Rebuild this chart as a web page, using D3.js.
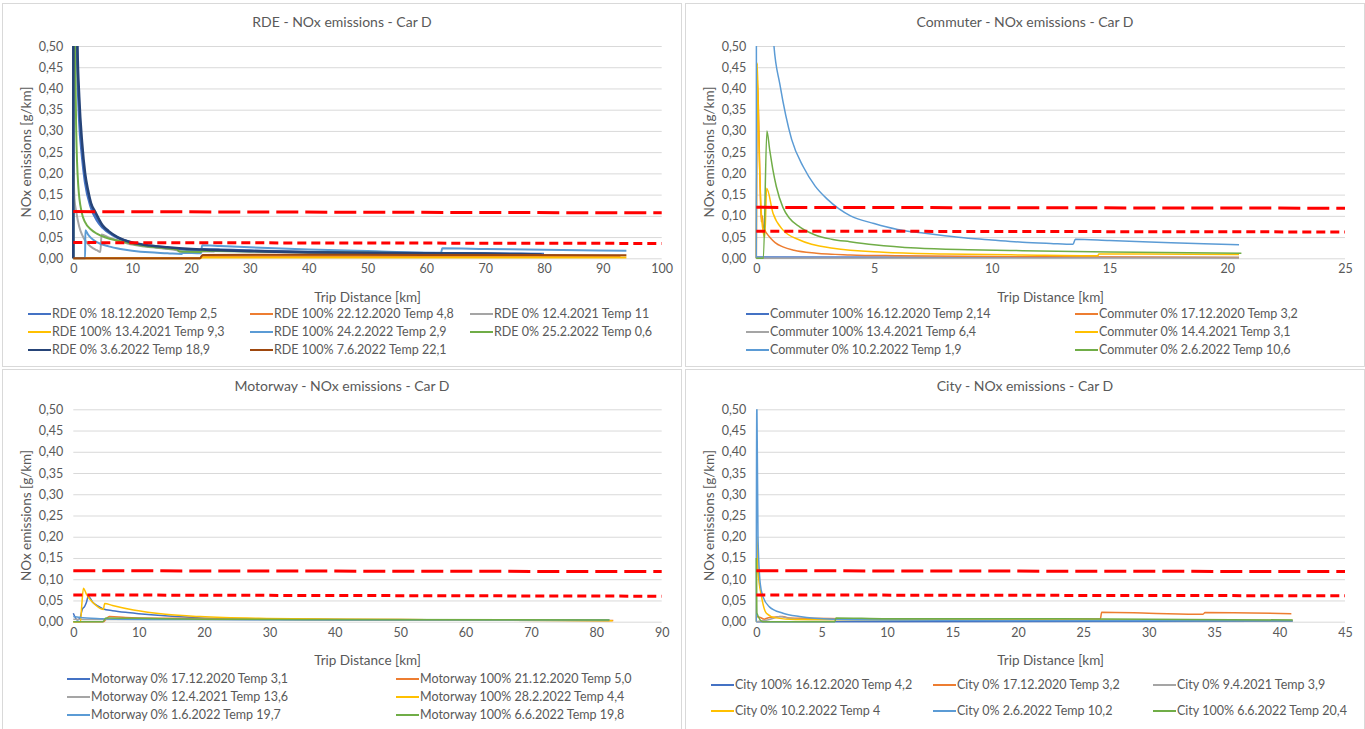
<!DOCTYPE html>
<html>
<head>
<meta charset="utf-8">
<script src="https://cdn.jsdelivr.net/npm/d3@7"></script>
<style>
  body { margin: 0; background: #fff; }
  svg text { font-family: Lato, "Open Sans", sans-serif; fill: #595959; }
</style>
</head>
<body>
<svg id="chart" width="1365" height="729"></svg>
<script>
// Excel default palette, in series order
const excelColors = ["#4472C4", "#ED7D31", "#A5A5A5", "#FFC000", "#5B9BD5", "#70AD47", "#264478", "#9E480E"];

// ---- RDE ----
const rdeNames = [
  "RDE 0% 18.12.2020 Temp 2,5", "RDE 100% 22.12.2020 Temp 4,8", "RDE 0% 12.4.2021 Temp 11",
  "RDE 100% 13.4.2021 Temp 9,3", "RDE 100% 24.2.2022 Temp 2,9", "RDE 0% 25.2.2022 Temp 0,6",
  "RDE 0% 3.6.2022 Temp 18,9", "RDE 100% 7.6.2022 Temp 22,1"
];
const rdeSeries = [
  [[0,0],[0.03,1.2],[0.3,0.75],[0.6,0.5],[1,0.33],[1.5,0.24],[2,0.18],[3,0.12],[4,0.09],[5,0.072],[7,0.052],[10,0.036],[14,0.027],[18,0.022],[21.5,0.019],[22,0.021],[30,0.018],[40,0.015],[50,0.013],[62,0.012],[70,0.011],[80,0.010]],
  [[0,0],[21.5,0],[22,0.005],[50,0.005],[93,0.004]],
  [[0,0.24],[0.2,0.14],[0.5,0.11],[1,0.075],[1.5,0.055],[2,0.042],[3,0.027],[4,0.019],[4.6,0.015],[4.8,0.056],[6,0.049],[7.4,0.043],[9.2,0.035],[12,0.028],[15,0.0235],[17.6,0.019],[18.5,0.015],[21.5,0.014],[22,0.016],[24,0.016]],
  [[0,0],[21.5,0],[22,0.002],[94,0.002]],
  [[0,0],[2,0],[2.05,0.066],[2.5,0.056],[3,0.048],[4,0.038],[6,0.028],[8,0.022],[10,0.018],[13,0.014],[16,0.012],[18.4,0.010],[18.6,0.013],[21.7,0.012],[21.9,0.031],[25,0.029],[30,0.026],[40,0.021],[50,0.017],[62.5,0.013],[62.7,0.0235],[70,0.022],[80,0.020],[94,0.018]],
  [[0,0],[0.02,1.2],[0.3,0.5],[0.5,0.3],[0.85,0.17],[1.4,0.11],[2,0.085],[3,0.068],[4,0.058],[5.5,0.049],[7.4,0.042],[9.1,0.037],[11,0.031],[13,0.027],[15.5,0.024],[17.6,0.021],[18,0.016],[21.5,0.015],[22,0.017],[30,0.016],[40,0.014],[50,0.013],[63,0.012]],
  [[0,0],[0.05,1.5],[0.45,0.8],[0.7,0.5],[1,0.38],[1.5,0.27],[2,0.2],[2.5,0.16],[3,0.13],[3.7,0.11],[5,0.077],[6,0.064],[7.5,0.05],[10,0.037],[13,0.03],[16,0.026],[20,0.022],[25,0.019],[30,0.017],[40,0.014],[50,0.013],[60,0.012],[70,0.011],[79.6,0.009]],
  [[0,0],[21.5,0],[22,0.008],[40,0.0085],[60,0.008],[94,0.007]]
];
const rdeLimits = [[[0,0.110],[100,0.107]], [[0,0.037],[100,0.035]]];

// ---- Commuter ----
const commuterNames = [
  "Commuter 100% 16.12.2020 Temp 2,14", "Commuter 0% 17.12.2020 Temp 3,2",
  "Commuter 100% 13.4.2021 Temp 6,4", "Commuter 0% 14.4.2021 Temp 3,1",
  "Commuter 0% 10.2.2022 Temp 1,9", "Commuter 0% 2.6.2022 Temp 10,6"
];
const commuterSeries = [
  [[0,0.003],[20.5,0.002]],
  [[0,0],[0.05,0.42],[0.15,0.2],[0.21,0.086],[0.25,0.1],[0.3,0.075],[0.45,0.058],[0.6,0.048],[0.8,0.037],[1.13,0.027],[1.6,0.019],[2.55,0.012],[4,0.008],[6,0.006],[10,0.004],[15,0.003],[20.5,0.002]],
  [[0,0],[20.5,0.001]],
  [[0,0],[0.04,0.46],[0.1,0.3],[0.2,0.12],[0.3,0.06],[0.36,0.05],[0.44,0.165],[0.71,0.106],[1.13,0.067],[1.84,0.043],[3.26,0.0235],[5.4,0.014],[8,0.010],[11.3,0.0078],[14.5,0.006],[14.55,0.010],[20.5,0.009]],
  [[0,0],[0.02,2.5],[0.4,0.9],[0.75,0.5],[1,0.41],[1.5,0.28],[2,0.215],[2.5,0.17],[3,0.14],[3.5,0.117],[4,0.1],[5,0.082],[6,0.068],[7,0.06],[8,0.053],[9,0.047],[10,0.043],[11.3,0.038],[12.5,0.035],[13.45,0.033],[13.55,0.045],[15,0.042],[17,0.038],[19,0.034],[20.5,0.032]],
  [[0,0],[0.3,0],[0.45,0.30],[0.57,0.255],[0.7,0.21],[0.85,0.169],[1.13,0.12],[1.4,0.095],[1.84,0.074],[2.5,0.055],[3.2,0.045],[3.97,0.039],[5,0.032],[6.8,0.024],[9,0.020],[11.3,0.018],[15,0.015],[20.6,0.012]]
];
const commuterLimits = [[[0,0.120],[25,0.118]], [[0,0.064],[25,0.062]]];

// ---- Motorway ----
const motorwayNames = [
  "Motorway 0% 17.12.2020 Temp 3,1", "Motorway 100% 21.12.2020 Temp 5,0",
  "Motorway 0% 12.4.2021 Temp 13,6", "Motorway 100% 28.2.2022 Temp 4,4",
  "Motorway 0% 1.6.2022 Temp 19,7", "Motorway 100% 6.6.2022 Temp 19,8"
];
const motorwaySeries = [
  [[0,0.02],[0.3,0.01],[0.6,0.004],[1,0.008],[1.4,0.03],[1.7,0.035],[2,0.045],[2.3,0.06],[3,0.045],[4,0.035],[4.6,0.03],[6,0.026],[8,0.022],[10,0.019],[14,0.014],[19.4,0.009],[30,0.006],[50,0.004],[82,0.003]],
  [[0,0],[4.6,0],[5.5,0.012],[8,0.010],[15,0.008],[30,0.006],[50,0.005],[82.6,0.003]],
  [[0,0.006],[5,0.005],[18.5,0.005],[40,0.004],[82,0.003]],
  [[0,0],[1.1,0],[1.3,0.04],[1.55,0.079],[2,0.065],[3,0.045],[4.3,0.03],[4.6,0.029],[4.8,0.043],[6,0.038],[9.2,0.0275],[14.1,0.0175],[19.4,0.012],[29.6,0.0075],[40,0.006],[60,0.004],[82.5,0.002]],
  [[0,0.012],[1,0.010],[4.5,0.007],[6,0.006],[20,0.005],[82,0.004]],
  [[0,0],[4.5,0],[5,0.009],[10,0.008],[20,0.006],[40,0.005],[82,0.004]]
];
const motorwayLimits = [[[0,0.120],[90,0.118]], [[0,0.063],[90,0.060]]];

// ---- City ----
const cityNames = [
  "City 100% 16.12.2020 Temp 4,2", "City 0% 17.12.2020 Temp 3,2", "City 0% 9.4.2021 Temp 3,9",
  "City 0% 10.2.2022 Temp 4", "City 0% 2.6.2022 Temp 10,2", "City 100% 6.6.2022 Temp 20,4"
];
const citySeries = [
  [[0,0],[41,0.001]],
  [[0,0.012],[0.3,0.010],[0.6,0.006],[1,0.010],[1.5,0.011],[2,0.012],[2.5,0.009],[4,0.008],[10,0.006],[20,0.006],[26.3,0.007],[26.4,0.022],[30,0.020],[34.15,0.0175],[34.3,0.0215],[40.9,0.019]],
  [[0,0],[1,0.005],[1.8,0.012],[2.5,0.008],[4,0.005],[41,0.003]],
  [[0,0],[0.05,0.2],[0.13,0.12],[0.4,0.059],[0.77,0.02],[1.5,0.009],[3,0.005],[41,0.003]],
  [[0,0],[0.02,0.6],[0.13,0.2],[0.3,0.09],[0.51,0.059],[1,0.035],[2.04,0.020],[3.3,0.012],[5.85,0.0056],[10,0.004],[20,0.003],[41,0.002]],
  [[0,0.15],[0.05,0.02],[0.5,0],[6,0],[6.1,0.009],[10,0.007],[20,0.007],[30,0.006],[41,0.004]]
];
const cityLimits = [[[0,0.120],[45,0.118]], [[0,0.063],[45,0.061]]];

const yTicks = [0, 0.05, 0.1, 0.15, 0.2, 0.25, 0.3, 0.35, 0.4, 0.45, 0.5];

// ---- layout ----
const panels = [
  { key: "rde", title: "RDE - NOx emissions - Car D", names: rdeNames, series: rdeSeries, limits: rdeLimits,
    xMax: 100, xStep: 10, frame: [2.5, 3.5, 679, 363], plot: [73.3, 46, 588.4, 212.3], titleY: 22,
    cols: [28, 250, 470], rows: [314, 332, 350], lineW: 2 },
  { key: "commuter", title: "Commuter - NOx emissions - Car D", names: commuterNames, series: commuterSeries, limits: commuterLimits,
    xMax: 25, xStep: 5, frame: [685.5, 3.5, 679, 363], plot: [756.3, 46, 588.7, 212.3], titleY: 22,
    cols: [746, 1075], rows: [314, 332, 350], lineW: 1.5 },
  { key: "motorway", title: "Motorway - NOx emissions - Car D", names: motorwayNames, series: motorwaySeries, limits: motorwayLimits,
    xMax: 90, xStep: 10, frame: [2.5, 369.5, 679, 362], plot: [73.3, 409.3, 588.4, 212.4], titleY: 386,
    cols: [67, 396], rows: [679, 697, 715], lineW: 1.5 },
  { key: "city", title: "City - NOx emissions - Car D", names: cityNames, series: citySeries, limits: cityLimits,
    xMax: 45, xStep: 5, frame: [685.5, 369.5, 679, 362], plot: [756.3, 409.3, 588.7, 212.4], titleY: 386,
    cols: [711, 933, 1153], rows: [685, 711], lineW: 1.5 }
];

const locale = d3.formatLocale({ decimal: ",", thousands: ".", grouping: [3], currency: ["", ""] });
const fmtY = locale.format(".2f");

const svg = d3.select("#chart");

panels.forEach((p) => {
  const [px, py, pw, ph] = p.plot;
  const g = svg.append("g").attr("class", p.key);

  // chart area frame
  g.append("rect")
    .attr("x", p.frame[0]).attr("y", p.frame[1])
    .attr("width", p.frame[2]).attr("height", p.frame[3])
    .attr("fill", "#fff").attr("stroke", "#D9D9D9");

  const x = d3.scaleLinear().domain([0, p.xMax]).range([px, px + pw]);
  const y = d3.scaleLinear().domain([0, 0.5]).range([py + ph, py]);

  // gridlines + y labels
  g.append("g")
    .attr("transform", `translate(${px},0)`)
    .call(d3.axisLeft(y).tickValues(yTicks).tickSize(-pw).tickPadding(10).tickFormat(fmtY))
    .call((a) => a.select(".domain").remove())
    .call((a) => a.selectAll(".tick line").attr("stroke", "#D9D9D9"))
    .call((a) => a.selectAll(".tick text").style("font-size", "12.5px").attr("fill", "#595959"));

  // x labels
  g.append("g")
    .attr("transform", `translate(0,${py + ph})`)
    .call(d3.axisBottom(x).tickValues(d3.range(0, p.xMax + 0.001, p.xStep)).tickSize(0).tickPadding(6))
    .call((a) => a.select(".domain").remove())
    .call((a) => a.selectAll(".tick text").style("font-size", "12.5px").attr("fill", "#595959"));

  // title
  g.append("text")
    .attr("x", p.frame[0] + p.frame[2] / 2)
    .attr("y", p.titleY)
    .attr("dy", "0.35em")
    .attr("text-anchor", "middle")
    .style("font-size", "14px")
    .text(p.title);

  // axis titles
  g.append("text")
    .attr("x", px + pw / 2)
    .attr("y", py + ph + 39)
    .attr("dy", "0.35em")
    .attr("text-anchor", "middle")
    .style("font-size", "13.5px")
    .text("Trip Distance [km]");

  g.append("text")
    .attr("transform", `translate(${px - 47},${py + ph / 2}) rotate(-90)`)
    .attr("dy", "0.35em")
    .attr("text-anchor", "middle")
    .style("font-size", "13.5px")
    .text("NOx emissions [g/km]");

  // clip to plot area
  const clipId = "clip-" + p.key;
  g.append("clipPath").attr("id", clipId)
    .append("rect").attr("x", px - 2).attr("y", py).attr("width", pw + 4).attr("height", ph + 2);

  const line = d3.line().x((d) => x(d[0])).y((d) => y(d[1]));
  const smooth = d3.line().curve(d3.curveMonotoneX).x((d) => x(d[0])).y((d) => y(d[1]));

  const plotG = g.append("g").attr("clip-path", `url(#${clipId})`);
  plotG.selectAll("path.series")
    .data(p.series)
    .enter()
    .append("path")
    .attr("class", "series")
    .attr("d", smooth)
    .attr("fill", "none")
    .attr("stroke", (d, i) => excelColors[i])
    .attr("stroke-width", (d, i) => (p.key === "rde" && (i === 0 || i === 6) ? 2.6 : p.lineW))
    .attr("stroke-linejoin", "round");

  // limit lines
  g.selectAll("path.limit")
    .data(p.limits)
    .enter()
    .append("path")
    .attr("class", "limit")
    .attr("d", line)
    .attr("fill", "none")
    .attr("stroke", "#FF0000")
    .attr("stroke-width", 3)
    .attr("stroke-dasharray", (d, i) => (i === 0 ? "22,7" : "9,5"));

  // legend
  const nCols = p.cols.length;
  const leg = g.selectAll("g.legend-item")
    .data(p.names)
    .enter()
    .append("g")
    .attr("class", "legend-item")
    .attr("transform", (d, i) => `translate(${p.cols[i % nCols]},${p.rows[Math.floor(i / nCols)]})`);

  leg.append("line")
    .attr("x1", 0).attr("x2", 23).attr("y1", 0).attr("y2", 0)
    .attr("stroke", (d, i) => excelColors[i])
    .attr("stroke-width", 2);

  leg.append("text")
    .attr("x", 24)
    .attr("dy", "0.35em")
    .style("font-size", "12.5px")
    .text((d) => d);
});
</script>
</body>
</html>
